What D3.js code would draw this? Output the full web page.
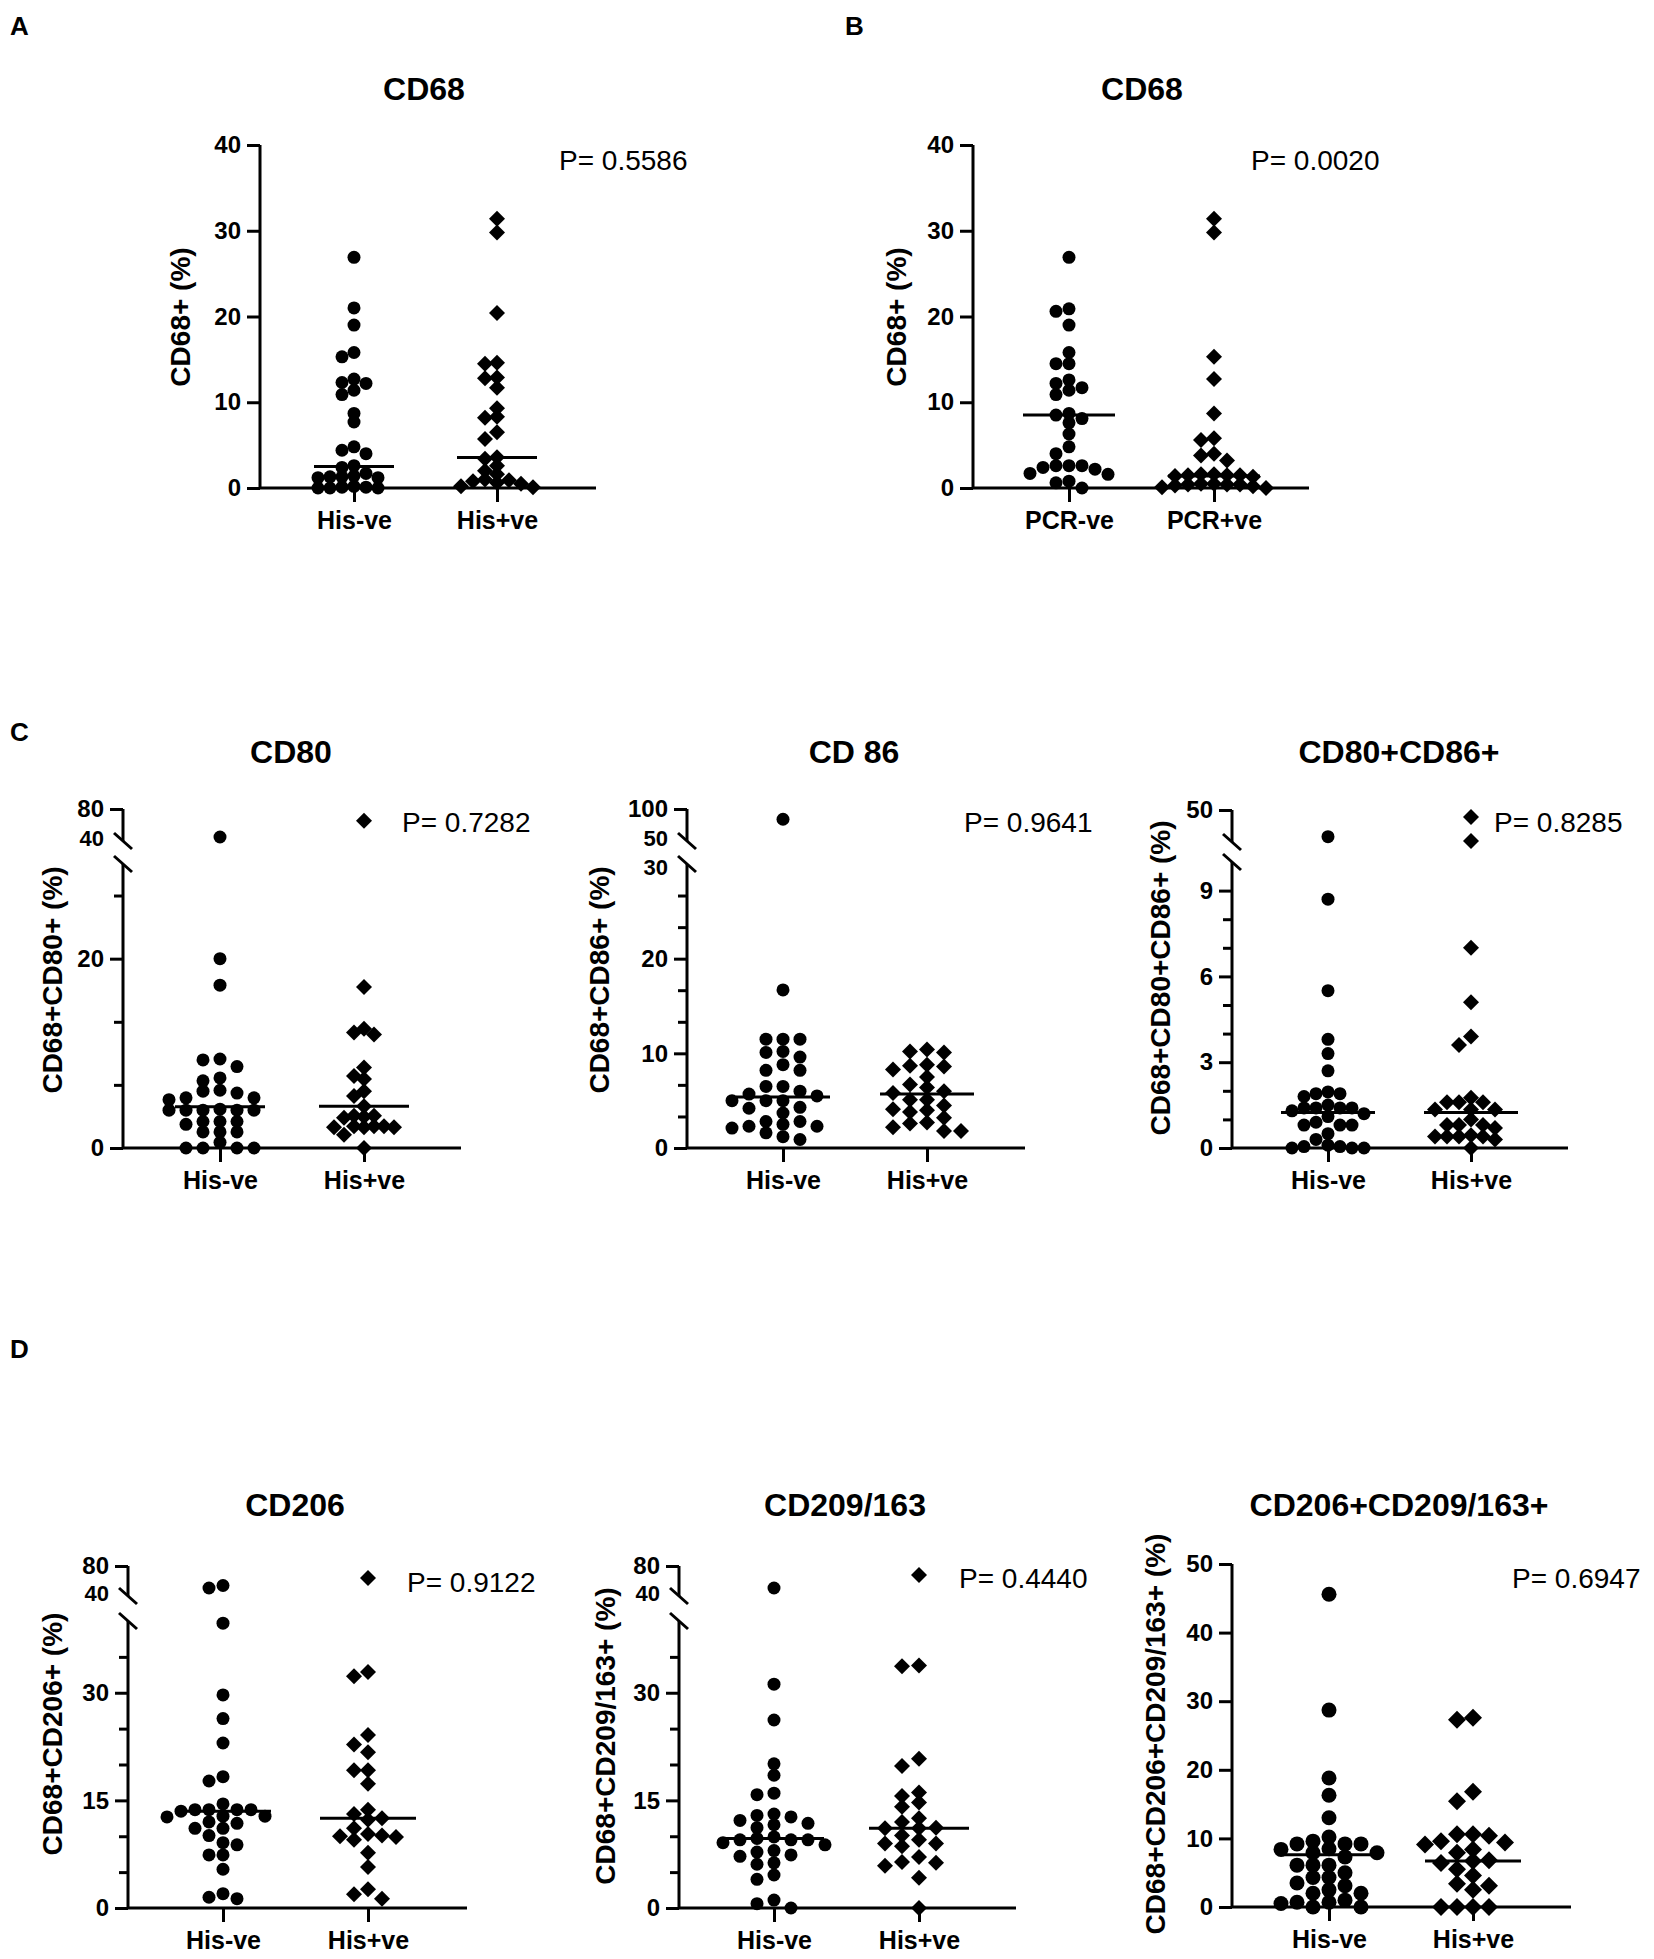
<!DOCTYPE html>
<html>
<head>
<meta charset="utf-8">
<title>CD68 / M1 / M2 macrophage markers</title>
<style>
  body { margin: 0; background: #fff; }
  text { font-family: "Liberation Sans", Arial, Helvetica, sans-serif; fill: #000; }
  .tick text { font-size: 24px; font-weight: bold; }
  .brk .tick text { font-size: 22px; }
  .cat .tick text { font-size: 25px; }
  .tick line, .axisline { stroke: #000; stroke-width: 3; }
  .title { font-size: 32px; font-weight: bold; text-anchor: middle; }
  .letter { font-size: 26px; font-weight: bold; }
  .pval { font-size: 28px; }
  .ylab { font-size: 28px; font-weight: bold; text-anchor: middle; }
</style>
</head>
<body>
<script src="https://cdn.jsdelivr.net/npm/d3@7"></script>
<script>
// categories
var hisCats = ["His-ve", "His+ve"];
var pcrCats = ["PCR-ve", "PCR+ve"];

// A: CD68, histology
var aHisNeg = [26.9, 21.0, 19.0, 15.8, 15.3, 12.7, 12.3, 12.2, 11.4, 10.9, 8.7, 7.7, 4.8, 4.4, 4.0, 2.6, 2.4,
               1.7, 1.4, 1.3, 1.3, 1.2, 1.2, 0.2, 0.1, 0.1, 0, 0, 0];
var aHisPos = [31.4, 29.8, 20.4, 14.6, 14.5, 12.9, 12.8, 11.7, 9.3, 8.3, 8.2, 6.5, 5.7, 3.6, 3.4, 2.6, 2.0,
               1.6, 1.0, 0.9, 0.8, 0.6, 0.5, 0.2, 0.1];
var aMedians = [2.5, 3.55];

// B: CD68, PCR
var bPcrNeg = [26.9, 20.9, 20.6, 19.0, 15.8, 14.5, 14.5, 12.6, 12.2, 11.7, 11.4, 10.9, 8.7, 8.5, 8.1, 7.6, 6.3,
               4.8, 4.0, 2.6, 2.6, 2.6, 2.4, 2.2, 1.7, 1.6, 0.8, 0.6, 0];
var bPcrPos = [31.4, 29.8, 15.3, 12.7, 8.7, 5.8, 5.6, 4.0, 3.8, 3.2, 1.6, 1.5, 1.5, 1.4, 1.3, 1.5, 1.6,
               0.5, 0.4, 0.4, 0.3, 0.5, 0.4, 0.2, 0.1, 0];
var bMedians = [8.5, 1.4];

// C: M1 markers
var c1HisNeg = [45, 20.0, 17.2, 9.4, 9.3, 8.6, 7.4, 7.1, 6.1, 6.0, 5.8, 5.3, 5.3, 5.1, 4.1, 4.0, 4.0, 4.0, 4.0, 4.0,
                2.8, 2.8, 2.8, 2.5, 1.7, 1.7, 1.7, 0.6, 0, 0, 0, 0];
var c1HisPos = [65.4, 17.0, 12.6, 12.2, 12.0, 8.5, 7.6, 7.3, 6.0, 5.5, 4.4, 3.4, 3.4, 3.3, 3.2, 2.3, 2.3, 2.3, 2.2,
                2.2, 2.2, 1.4, 0];
var c1Medians = [4.35, 4.4];

var c2HisNeg = [84, 16.7, 11.5, 11.5, 11.5, 10.2, 10.1, 9.6, 8.8, 8.2, 8.2, 6.5, 6.5, 6.0, 5.7, 5.5, 5.0, 5.0, 5.0,
                4.3, 4.2, 3.7, 2.8, 2.8, 2.5, 2.3, 2.3, 2.1, 1.6, 1.2, 0.9];
var c2HisPos = [10.4, 10.2, 10.1, 8.8, 8.7, 8.6, 8.3, 7.5, 6.7, 6.4, 6.0, 5.8, 5.1, 5.1, 4.5, 4.1, 4.0, 3.8, 3.2,
                2.7, 2.6, 2.2, 1.8, 1.8];
var c2Medians = [5.4, 5.7];

var c3HisNeg = [25, 8.7, 5.5, 3.8, 3.3, 2.7, 1.96, 1.9, 1.9, 1.8, 1.5, 1.4, 1.4, 1.4, 1.4, 1.3, 1.2, 1.1, 0.9, 0.8,
                0.8, 0.8, 0.5, 0.3, 0.1, 0.05, 0.05, 0, 0, 0];
var c3HisPos = [43.5, 21, 7.0, 5.1, 3.9, 3.6, 1.76, 1.6, 1.6, 1.6, 1.35, 1.35, 1.35, 1.0, 0.8, 0.8, 0.8, 0.7, 0.4,
                0.4, 0.4, 0.4, 0.45, 0.3, 0];
var c3Medians = [1.24, 1.24];

// D: M2 markers
var d1HisNeg = [54, 50.7, 39.7, 29.7, 26.4, 23.0, 18.3, 17.7, 14.5, 13.7, 13.7, 13.7, 13.7, 13.5, 12.8, 12.8, 12.7,
                12.0, 11.8, 11.1, 11.1, 10.1, 9.1, 8.8, 7.4, 7.4, 5.4, 2.0, 1.5, 1.3];
var d1HisPos = [64, 32.9, 32.3, 24.1, 22.8, 21.7, 19.2, 19.2, 17.3, 13.7, 13.1, 12.5, 12.3, 11.1, 10.3, 10.1, 10.0,
                9.9, 9.5, 7.7, 5.7, 2.6, 1.9, 1.3];
var d1Medians = [13.5, 12.5];

var d2HisNeg = [50.7, 31.2, 26.2, 20.1, 18.5, 16.0, 15.8, 13.1, 12.9, 12.7, 12.2, 11.8, 11.6, 11.2, 9.9, 9.7, 9.5,
                9.5, 9.5, 9.1, 8.8, 8.0, 7.8, 7.4, 7.2, 6.3, 6.1, 4.6, 4.0, 1.1, 0.6, 0];
var d2HisPos = [68, 33.8, 33.7, 20.8, 19.8, 16.1, 15.6, 14.7, 14.1, 12.5, 12.0, 11.2, 11.1, 11.1, 10.1, 9.5, 9.0,
                9.0, 8.6, 7.1, 6.4, 6.3, 5.9, 4.2, 0];
var d2Medians = [9.7, 11.1];

var d3HisNeg = [45.6, 28.7, 18.8, 16.3, 13.0, 10.2, 9.6, 9.2, 9.2, 9.2, 8.5, 8.4, 7.9, 7.9, 7.3, 6.1, 6.1, 6.1,
                5.0, 4.3, 4.3, 3.5, 3.1, 2.5, 2.0, 2.0, 1.0, 0.7, 0.7, 0.5, 0, 0];
var d3HisPos = [27.6, 27.3, 16.8, 15.4, 10.6, 10.6, 10.4, 9.6, 9.4, 9.1, 8.4, 7.9, 6.8, 6.7, 6.4, 5.5, 4.6, 3.4,
                3.1, 2.5, 0, 0, 0, 0];
var d3Medians = [7.6, 6.7];

// tick labels per panel (majors labelled, minors unlabelled, break labels have no tick)
var abTicks = [0, 10, 20, 30, 40];
var c1Ticks = [0, 20, 80], c1Minor = [6.67, 13.33, 26.67], c1Break = [40];
var c2Ticks = [0, 10, 20, 100], c2Minor = [3.33, 6.67, 13.33, 16.67, 23.33, 26.67], c2Break = [30, 50];
var c3Ticks = [0, 3, 6, 9, 50], c3Minor = [1, 2, 4, 5, 7, 8];
var dTicks = [0, 15, 30, 80], dMinor = [5, 10, 20, 25, 35], dBreak = [40];
var d3Ticks = [0, 10, 20, 30, 40, 50];

var titles = ["CD68", "CD68", "CD80", "CD 86", "CD80+CD86+", "CD206", "CD209/163", "CD206+CD209/163+"];
var pTexts = ["P= 0.5586", "P= 0.0020", "P= 0.7282", "P= 0.9641", "P= 0.8285", "P= 0.9122", "P= 0.4440", "P= 0.6947"];
var yLabels = ["CD68+ (%)", "CD68+ (%)", "CD68+CD80+ (%)", "CD68+CD86+ (%)", "CD68+CD80+CD86+ (%)",
               "CD68+CD206+ (%)", "CD68+CD209/163+ (%)", "CD68+CD206+CD209/163+ (%)"];

var width = 1654, height = 1959;

var svg = d3.select("body").append("svg")
  .attr("width", width)
  .attr("height", height);

// panel layout (pixel positions only)
var panels = [
  { letter: "A", lx: 10, ly: 35, tx: 424, ty: 100, px: 559, py: 170, yx: 180, yy: 317,
    axisX: 260, xEnd: 596, centers: [354, 497], low: [0, 40], lowPx: [488, 145],
    cats: hisCats, groups: [aHisNeg, aHisPos], medians: aMedians, majors: abTicks,
    step: 12, rowH: 8, r: 6.5, medHalf: 40 },
  { letter: "B", lx: 845, ly: 35, tx: 1142, ty: 100, px: 1251, py: 170, yx: 896, yy: 317,
    axisX: 973, xEnd: 1309, centers: [1069, 1214], low: [0, 40], lowPx: [488, 145],
    cats: pcrCats, groups: [bPcrNeg, bPcrPos], medians: bMedians, majors: abTicks,
    step: 13, rowH: 9, r: 6.5, medHalf: 46 },
  { letter: "C", lx: 10, ly: 741, tx: 291, ty: 763, px: 402, py: 832, yx: 52, yy: 980,
    axisX: 123, xEnd: 461, centers: [220, 364], low: [0, 30], lowPx: [1148, 864], high: [40, 80], highPx: [841, 809],
    cats: hisCats, groups: [c1HisNeg, c1HisPos], medians: c1Medians, majors: c1Ticks, minors: c1Minor, breaks: c1Break,
    step: [17, 10], rowH: 10, r: 6.5, medHalf: 45 },
  { tx: 854, ty: 763, px: 964, py: 832, yx: 599, yy: 980,
    axisX: 687, xEnd: 1025, centers: [783, 927], low: [0, 30], lowPx: [1148, 864], high: [50, 100], highPx: [841, 809],
    cats: hisCats, groups: [c2HisNeg, c2HisPos], medians: c2Medians, majors: c2Ticks, minors: c2Minor, breaks: c2Break,
    step: 17, rowH: 10, r: 6.5, medHalf: 47 },
  { tx: 1399, ty: 763, px: 1494, py: 832, yx: 1160, yy: 978,
    axisX: 1232, xEnd: 1568, centers: [1328, 1471], low: [0, 10], lowPx: [1148, 862], high: [20, 50], highPx: [842, 810],
    cats: hisCats, groups: [c3HisNeg, c3HisPos], medians: c3Medians, majors: c3Ticks, minors: c3Minor,
    step: 12, rowH: 10, r: 6.5, medHalf: 47 },
  { letter: "D", lx: 10, ly: 1358, tx: 295, ty: 1516, px: 407, py: 1592, yx: 52, yy: 1734,
    axisX: 128, xEnd: 467, centers: [223, 368], low: [0, 40], lowPx: [1908, 1621], high: [40, 80], highPx: [1596, 1566],
    cats: hisCats, groups: [d1HisNeg, d1HisPos], medians: d1Medians, majors: dTicks, minors: dMinor, breaks: dBreak,
    step: 14, rowH: 10, r: 6.5, medHalf: 48 },
  { tx: 845, ty: 1516, px: 959, py: 1588, yx: 605, yy: 1736,
    axisX: 679, xEnd: 1016, centers: [774, 919], low: [0, 40], lowPx: [1908, 1621], high: [40, 80], highPx: [1596, 1566],
    cats: hisCats, groups: [d2HisNeg, d2HisPos], medians: d2Medians, majors: dTicks, minors: dMinor, breaks: dBreak,
    step: 17, rowH: 10, r: 6.5, medHalf: 50 },
  { tx: 1399, ty: 1516, px: 1512, py: 1588, yx: 1155, yy: 1734,
    axisX: 1232, xEnd: 1571, centers: [1329, 1473], low: [0, 50], lowPx: [1907, 1564],
    cats: hisCats, groups: [d3HisNeg, d3HisPos], medians: d3Medians, majors: d3Ticks,
    step: 16, rowH: 11, r: 7.5, medHalf: 48 }
];

// simple beeswarm: spread points sideways until they stop overlapping
function swarm(values, yFn, cx, step, rowH) {
  var placed = [];
  values.slice().sort(function (a, b) { return b - a; }).forEach(function (v) {
    var py = yFn(v);
    for (var k = 0; k < 80; k++) {
      var off = k === 0 ? 0 : Math.ceil(k / 2) * step / 2 * (k % 2 ? -1 : 1);
      var hit = placed.some(function (q) {
        return Math.abs(q.y - py) < rowH && Math.abs(q.off - off) < step * 0.98;
      });
      if (!hit) { placed.push({ v: v, y: py, off: off }); break; }
    }
  });
  return placed.map(function (q) { return { value: q.v, x: cx + q.off, y: q.y }; });
}

function diamond(s) {
  return "M0," + (-s) + "L" + s + ",0L0," + s + "L" + (-s) + ",0Z";
}

function drawPanel(p, i) {
  var g = svg.append("g");
  var low = d3.scaleLinear().domain(p.low).range(p.lowPx);
  var high = p.high ? d3.scaleLinear().domain(p.high).range(p.highPx) : null;
  var y = function (v) { return (high && v >= p.high[0]) ? high(v) : low(v); };
  var x = d3.scalePoint().domain(p.cats).range(p.centers);

  // y axis ticks, split over the two segments
  function ticks(vals, size, pad, labelled, isBreak) {
    [low, high].forEach(function (sc, si) {
      if (!sc) return;
      var own = vals.filter(function (v) {
        return si === 1 ? v >= p.high[0] : !(high && v >= p.high[0]);
      });
      if (!own.length) return;
      var ax = g.append("g")
        .attr("class", isBreak ? "brk" : null)
        .attr("transform", "translate(" + p.axisX + ",0)")
        .call(d3.axisLeft(sc).tickValues(own).tickSize(size).tickPadding(pad)
          .tickFormat(labelled ? d3.format("d") : function () { return ""; }))
        .attr("font-size", null).attr("font-family", null)
        .call(function (s) { s.select(".domain").remove(); });
      // nudge break labels apart from the gap
      if (isBreak) ax.selectAll(".tick text").attr("y", si === 1 ? -3 : 3);
    });
  }
  ticks(p.majors, 13, 6, true, false);
  if (p.minors) ticks(p.minors, 9, 6, false, false);
  if (p.breaks) ticks(p.breaks, 0, 19, true, true);

  // axis segments
  g.append("line").attr("class", "axisline")
    .attr("x1", p.axisX).attr("x2", p.axisX)
    .attr("y1", low(p.low[0])).attr("y2", low(p.low[1]));
  if (high) {
    g.append("line").attr("class", "axisline")
      .attr("x1", p.axisX).attr("x2", p.axisX)
      .attr("y1", high(p.high[0])).attr("y2", high(p.high[1]));
    // break marks
    [low(p.low[1]), high(p.high[0])].forEach(function (by) {
      g.append("line").attr("class", "axisline")
        .attr("x1", p.axisX - 9).attr("y1", by - 8)
        .attr("x2", p.axisX + 9).attr("y2", by + 8);
    });
  }

  // x axis
  var y0 = low(0);
  g.append("line").attr("class", "axisline")
    .attr("x1", p.axisX).attr("x2", p.xEnd)
    .attr("y1", y0).attr("y2", y0);
  g.append("g")
    .attr("class", "cat")
    .attr("transform", "translate(0," + y0 + ")")
    .call(d3.axisBottom(x).tickSize(14).tickPadding(9))
    .attr("font-size", null).attr("font-family", null)
    .call(function (s) { s.select(".domain").remove(); });

  // points
  p.groups.forEach(function (vals, gi) {
    var step = Array.isArray(p.step) ? p.step[gi] : p.step;
    var pts = swarm(vals, y, x(p.cats[gi]), step, p.rowH);
    if (gi === 0) {
      g.selectAll(null).data(pts).enter().append("circle")
        .attr("cx", function (d) { return d.x; })
        .attr("cy", function (d) { return d.y; })
        .attr("r", p.r)
        .attr("fill", "#000");
    } else {
      g.selectAll(null).data(pts).enter().append("path")
        .attr("d", diamond(p.r + 1.5))
        .attr("transform", function (d) { return "translate(" + d.x + "," + d.y + ")"; })
        .attr("fill", "#000");
    }
  });

  // median lines
  g.selectAll(null).data(p.medians).enter().append("line")
    .attr("x1", function (d, j) { return x(p.cats[j]) - p.medHalf; })
    .attr("x2", function (d, j) { return x(p.cats[j]) + p.medHalf; })
    .attr("y1", function (d) { return y(d); })
    .attr("y2", function (d) { return y(d); })
    .attr("stroke", "#000")
    .attr("stroke-width", 3);

  // texts
  g.append("text").attr("class", "title").attr("x", p.tx).attr("y", p.ty).text(titles[i]);
  g.append("text").attr("class", "pval").attr("x", p.px).attr("y", p.py).text(pTexts[i]);
  g.append("text").attr("class", "ylab")
    .attr("transform", "translate(" + p.yx + "," + p.yy + ") rotate(-90)")
    .attr("dy", "0.36em")
    .text(yLabels[i]);
  if (p.letter) {
    g.append("text").attr("class", "letter").attr("x", p.lx).attr("y", p.ly).text(p.letter);
  }
}

panels.forEach(drawPanel);
</script>
</body>
</html>
